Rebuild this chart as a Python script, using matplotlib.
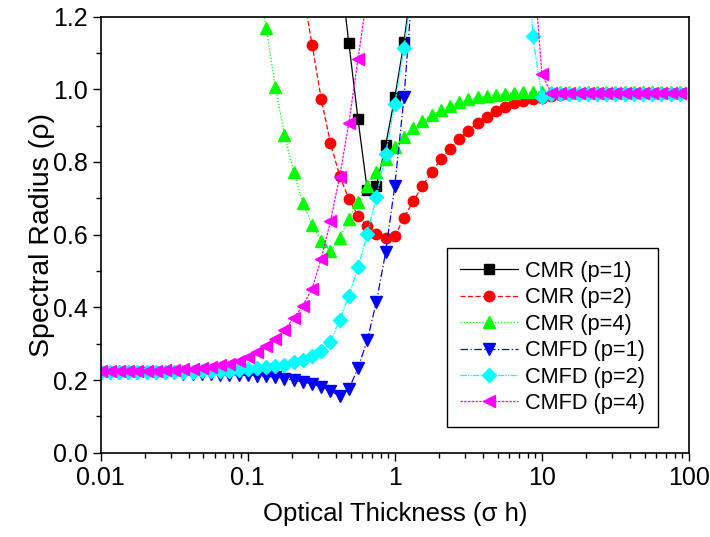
import numpy as np
import matplotlib
matplotlib.use('Agg')
import matplotlib.pyplot as plt
from matplotlib.ticker import FixedLocator, MultipleLocator, NullFormatter

plt.rcParams['font.family'] = ['Liberation Sans', 'DejaVu Sans']

nan = np.nan

# optical thickness grid (sigma h)
sigma_h = [0.01, 0.01155, 0.01334, 0.0154, 0.01778, 0.02054, 0.02371, 0.02738,
           0.03162, 0.03652, 0.04217, 0.0487, 0.05623, 0.06494, 0.07499, 0.0866,
           0.1, 0.1155, 0.1334, 0.154, 0.1778, 0.2054, 0.2371, 0.2738,
           0.3162, 0.3652, 0.4217, 0.487, 0.5623, 0.6494, 0.7499, 0.866,
           1.0, 1.155, 1.334, 1.54, 1.778, 2.054, 2.371, 2.738,
           3.162, 3.652, 4.217, 4.87, 5.623, 6.494, 7.499, 8.66,
           10.0, 11.55, 13.34, 15.4, 17.78, 20.54, 23.71, 27.38,
           31.62, 36.52, 42.17, 48.7, 56.23, 64.94, 74.99, 86.6]

cmr_p1 = [nan] * 26 + [1.34, 1.128, 0.917, 0.724, 0.735, 0.846, 0.978, 1.129, 1.33] + [nan] * 29

cmr_p2 = [nan] * 22 + [1.27, 1.123, 0.973, 0.852, 0.762, 0.698, 0.652, 0.623, 0.602, 0.590,
                       0.595, 0.647, 0.692, 0.734, 0.772, 0.807, 0.836, 0.862, 0.886, 0.907,
                       0.924, 0.939, 0.952, 0.961, 0.967, 0.972, 0.977, 0.981, 0.984, 0.986,
                       0.988, 0.989, 0.989, 0.990, 0.990, 0.990, 0.990, 0.990, 0.990, 0.990,
                       0.990, 0.990]

cmr_p4 = [nan] * 17 + [1.33, 1.169, 1.007, 0.875, 0.772, 0.687, 0.627, 0.583, 0.554, 0.591,
                       0.643, 0.690, 0.735, 0.772, 0.808, 0.841, 0.868, 0.893, 0.912, 0.930,
                       0.944, 0.955, 0.964, 0.972, 0.978, 0.981, 0.985, 0.988, 0.990, 0.992,
                       0.992, 0.992, 0.992, 0.992, 0.992, 0.992, 0.992, 0.992, 0.992, 0.992,
                       0.992, 0.992, 0.992, 0.992, 0.992, 0.992, 0.992]

cmfd_p1 = [0.220, 0.220, 0.220, 0.220, 0.219, 0.219, 0.219, 0.218, 0.218, 0.217,
           0.217, 0.216, 0.216, 0.215, 0.214, 0.214, 0.213, 0.212, 0.210, 0.208,
           0.204, 0.199, 0.195, 0.189, 0.181, 0.171, 0.155, 0.175, 0.233, 0.309,
           0.415, 0.551, 0.735, 0.978, 1.31] + [nan] * 29

cmfd_p2 = [0.221, 0.221, 0.221, 0.221, 0.221, 0.222, 0.222, 0.222, 0.222, 0.223,
           0.223, 0.224, 0.224, 0.225, 0.226, 0.228, 0.230, 0.233, 0.236, 0.238,
           0.242, 0.249, 0.254, 0.265, 0.279, 0.305, 0.366, 0.432, 0.510, 0.602,
           0.705, 0.823, 0.960, 1.114, 1.30] + [nan] * 11 + \
          [1.65, 1.148, 0.979, 0.988, 0.988, 0.988, 0.988, 0.988, 0.988, 0.988,
           0.988, 0.988, 0.988, 0.988, 0.988, 0.988, 0.988, 0.988]

cmfd_p4 = [0.224, 0.224, 0.224, 0.225, 0.225, 0.226, 0.226, 0.227, 0.228, 0.229,
           0.231, 0.233, 0.236, 0.240, 0.245, 0.252, 0.262, 0.276, 0.293, 0.312,
           0.339, 0.371, 0.405, 0.451, 0.534, 0.637, 0.760, 0.907, 1.084, 1.26] + [nan] * 17 + \
          [1.37, 1.043, 0.990, 0.990, 0.990, 0.990, 0.990, 0.990, 0.990, 0.990,
           0.990, 0.990, 0.990, 0.990, 0.990, 0.990, 0.990]

labels = ['CMR (p=1)', 'CMR (p=2)', 'CMR (p=4)', 'CMFD (p=1)', 'CMFD (p=2)', 'CMFD (p=4)']
series = [cmr_p1, cmr_p2, cmr_p4, cmfd_p1, cmfd_p2, cmfd_p4]
colors = ['#000000', '#ff0000', '#00ff00', '#0000ff', '#00ffff', '#ff00ff']
markers = ['s', 'o', '^', 'v', 'D', '<']
msizes = [6.5, 7.5, 9, 9, 7, 9]
styles = ['-', (0, (4, 2)), (0, (1, 1.5)), (0, (6, 2, 1, 2)), (0, (5, 1, 1, 1, 1, 1)), (0, (2, 1))]

fig = plt.figure(figsize=(7.1, 5.37), dpi=100)
ax = fig.add_axes([0.1418, 0.157, 0.8285, 0.812])

for y, lab, c, m, ms, ls in zip(series, labels, colors, markers, msizes, styles):
    ax.plot(sigma_h, y, color=c, marker=m, markersize=ms, linestyle=ls, linewidth=0.9,
            markeredgecolor=c, markerfacecolor=c, label=lab)

ax.set_xscale('log')
ax.set_xlim(0.01, 100)
ax.set_ylim(0, 1.2)
ax.xaxis.set_major_locator(FixedLocator([0.01, 0.1, 1, 10, 100]))
ax.set_xticklabels(['0.01', '0.1', '1', '10', '100'])
ax.xaxis.set_minor_formatter(NullFormatter())
ax.yaxis.set_major_locator(MultipleLocator(0.2))
ax.yaxis.set_minor_locator(MultipleLocator(0.1))
ax.yaxis.set_major_formatter(matplotlib.ticker.FormatStrFormatter('%.1f'))

ax.tick_params(which='major', direction='out', length=5.5, width=1.0, labelsize=18,
               top=False, right=False, pad=4)
ax.tick_params(which='minor', direction='out', length=3.5, width=1.0, top=False, right=False)
for sp in ax.spines.values():
    sp.set_linewidth(1.2)

ax.set_xlabel('Optical Thickness (σ h)', fontsize=18.5, labelpad=9)
ax.set_ylabel('Spectral Radius (ρ)', fontsize=20.5, labelpad=-2)

leg = ax.legend(loc='upper right', bbox_to_anchor=(0.947, 0.470), fontsize=15.7,
                handlelength=2.65, handletextpad=0.3, labelspacing=0.25,
                borderpad=0.6, borderaxespad=0, fancybox=False, framealpha=1,
                edgecolor='black')
leg.get_frame().set_linewidth(1.0)

fig.savefig('out.png', dpi=100)
